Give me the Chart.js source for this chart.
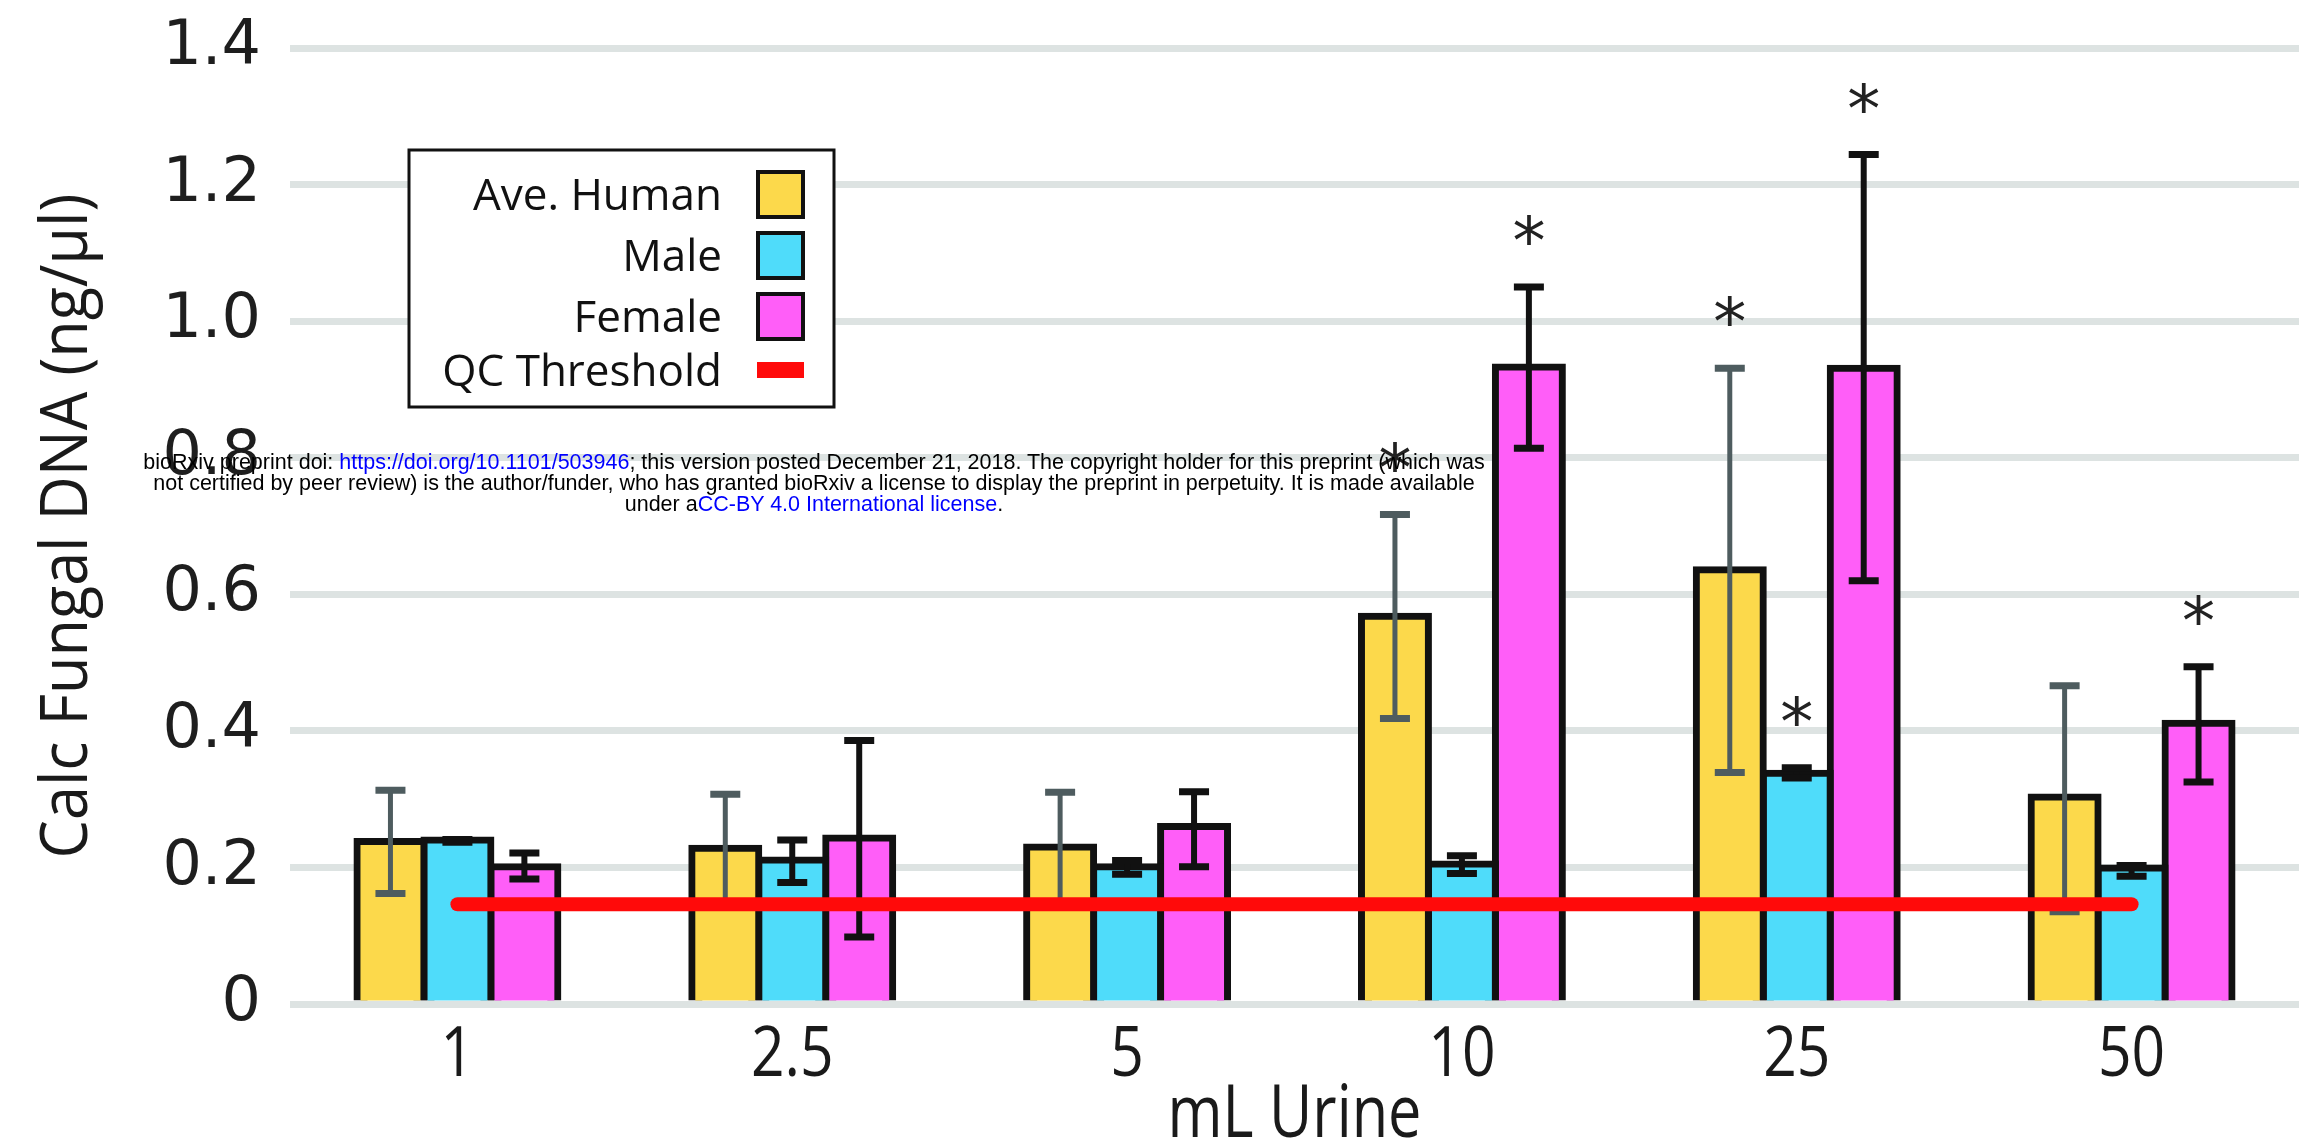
<!DOCTYPE html>
<html>
<head>
<meta charset="utf-8">
<script src="https://cdn.jsdelivr.net/npm/chart.js@4.4.1/dist/chart.umd.min.js"></script>
<style>
    html, body { margin: 0; padding: 0; background: #fff; }
    #wrap { position: relative; width: 2299px; height: 1140px; }
    #note {
        position: absolute; left: 0; top: 452px; width: 1628px;
        text-align: center; white-space: nowrap;
        font: 21.5px "Liberation Sans", Arial, sans-serif; line-height: 21px; color: #000;
    }
    #note a { color: #0000ff; text-decoration: none; }
</style>
</head>
<body>
<div id="wrap">
    <canvas id="chart" width="2299" height="1140"></canvas>
    <div id="note">bioRxiv preprint doi: <a>https://doi.org/10.1101/503946</a>; this version posted December 21, 2018. The copyright holder for this preprint (which was<br>not certified by peer review) is the author/funder, who has granted bioRxiv a license to display the preprint in perpetuity. It is made available<br>under a<a>CC-BY 4.0 International license</a>.</div>
</div>
<script>
const doses = ["1", "2.5", "5", "10", "25", "50"];
const yTicks = [0, 0.2, 0.4, 0.6, 0.8, 1.0, 1.2, 1.4];

const humanMean = [0.238, 0.228, 0.230, 0.568, 0.636, 0.303];
const humanLow  = [0.162, 0.150, 0.150, 0.418, 0.339, 0.135];
const humanHigh = [0.313, 0.307, 0.310, 0.717, 0.931, 0.466];

const maleMean = [0.240, 0.211, 0.201, 0.205, 0.338, 0.199];
const maleLow  = [0.237, 0.178, 0.190, 0.191, 0.331, 0.187];
const maleHigh = [0.241, 0.240, 0.210, 0.217, 0.346, 0.203];

const femaleMean = [0.201, 0.243, 0.260, 0.933, 0.931, 0.411];
const femaleLow  = [0.183, 0.098, 0.201, 0.814, 0.620, 0.325];
const femaleHigh = [0.221, 0.386, 0.311, 1.050, 1.244, 0.494];

const qcThreshold = [0.146, 0.146, 0.146, 0.146, 0.146, 0.146];

// significance stars (drawn above the error bar)
const humanStar  = [false, false, false, true, true, false];
const maleStar   = [false, false, false, false, true, false];
const femaleStar = [false, false, false, true, true, true];

// the original uses a condensed face, so squeeze Open Sans horizontally
function squeezed(ctx, text, x, y, size, sx, rotate) {
    ctx.save();
    ctx.font = size + "px 'Open Sans'";
    ctx.translate(x, y);
    if (rotate) ctx.rotate(-Math.PI / 2);
    ctx.scale(sx, 1);
    ctx.textAlign = "center";
    ctx.textBaseline = "alphabetic";
    ctx.fillText(text, 0, 0);
    ctx.restore();
}

function fitScale(ctx, text, size, width) {
    ctx.font = size + "px 'Open Sans'";
    return width / ctx.measureText(text).width;
}

const condensedText = {
    id: "condensedText",
    afterDraw(chart) {
        const ctx = chart.ctx, x = chart.scales.x, area = chart.chartArea;
        ctx.save();
        ctx.fillStyle = "#1a1a1a";
        chart.data.labels.forEach((lab, i) => {
            squeezed(ctx, lab, x.getPixelForTick(i), 1076, 70, 0.84, false);
        });
        const xt = chart.options.scales.x.title.text;
        squeezed(ctx, xt, (area.left + area.right) / 2, 1137, 73, fitScale(ctx, xt, 73, 254), false);
        const yt = chart.options.scales.y.title.text;
        squeezed(ctx, yt, 87, (area.top + area.bottom) / 2, 66, fitScale(ctx, yt, 66, 665), true);
        ctx.restore();
    }
};

const errorBars = {
    id: "errorBars",
    afterDatasetDraw(chart, args) {
        const ds = chart.data.datasets[args.index];
        if (!ds.errLow) return;
        const ctx = chart.ctx, y = chart.scales.y;
        ctx.save();
        ctx.strokeStyle = ds.errColor;
        ctx.lineCap = "butt";
        args.meta.data.forEach((bar, i) => {
            const top = y.getPixelForValue(ds.errHigh[i]);
            const bot = y.getPixelForValue(ds.errLow[i]);
            ctx.lineWidth = ds.errWidth;
            ctx.beginPath();
            ctx.moveTo(bar.x, top);
            ctx.lineTo(bar.x, bot);
            ctx.stroke();
            ctx.lineWidth = 7;
            ctx.beginPath();
            ctx.moveTo(bar.x - 15, top); ctx.lineTo(bar.x + 15, top);
            ctx.moveTo(bar.x - 15, bot); ctx.lineTo(bar.x + 15, bot);
            ctx.stroke();
        });
        ctx.restore();
    },
    afterDatasetsDraw(chart) {
        const ctx = chart.ctx, y = chart.scales.y;
        ctx.save();
        ctx.fillStyle = "#222";
        ctx.font = "66px 'DejaVu Sans'";
        ctx.textAlign = "center";
        ctx.textBaseline = "alphabetic";
        chart.data.datasets.forEach((ds, d) => {
            if (!ds.stars) return;
            chart.getDatasetMeta(d).data.forEach((bar, i) => {
                if (ds.stars[i]) ctx.fillText("*", bar.x, y.getPixelForValue(ds.errHigh[i]) - 23);
            });
        });
        ctx.restore();
    }
};

const boxLegend = {
    id: "boxLegend",
    afterDraw(chart) {
        const ctx = chart.ctx;
        ctx.save();
        ctx.fillStyle = "#fff";
        ctx.fillRect(409, 150, 425, 257);
        ctx.strokeStyle = "#111";
        ctx.lineWidth = 3;
        ctx.strokeRect(409, 150, 425, 257);
        const rows = [194, 255, 316, 370];
        ctx.font = "44px 'Open Sans'";
        ctx.textAlign = "right";
        ctx.textBaseline = "alphabetic";
        chart.data.datasets.forEach((ds, i) => {
            ctx.fillStyle = "#111";
            ctx.fillText(ds.label, 722, rows[i] + 16);
            if (ds.type === "line") {
                ctx.fillStyle = ds.borderColor;
                ctx.fillRect(757, rows[i] - 8, 47, 16);
            } else {
                ctx.fillStyle = ds.backgroundColor;
                ctx.fillRect(758, rows[i] - 22, 45, 45);
                ctx.strokeStyle = "#111";
                ctx.lineWidth = 4;
                ctx.strokeRect(758, rows[i] - 22, 45, 45);
            }
        });
        ctx.restore();
    }
};

function barSet(label, color, data, low, high, errColor, errWidth, stars) {
    return {
        type: "bar", label: label, data: data,
        backgroundColor: color, borderColor: "#111", borderWidth: 7,
        borderSkipped: "start", inflateAmount: 3.5,
        errLow: low, errHigh: high, errColor: errColor, errWidth: errWidth, stars: stars,
        order: 1
    };
}

new Chart(document.getElementById("chart").getContext("2d"), {
    data: {
        labels: doses,
        datasets: [
            barSet("Ave. Human", "#fcd94b", humanMean, humanLow, humanHigh, "#4e5c5f", 5, humanStar),
            barSet("Male", "#4fdcfa", maleMean, maleLow, maleHigh, "#111", 6, maleStar),
            barSet("Female", "#ff5ef8", femaleMean, femaleLow, femaleHigh, "#111", 6, femaleStar),
            {
                type: "line", label: "QC Threshold", data: qcThreshold,
                borderColor: "#ff0a0a", borderWidth: 14, borderCapStyle: "round",
                pointRadius: 0, fill: false, order: 0
            }
        ]
    },
    options: {
        responsive: false,
        animation: false,
        layout: { padding: { top: 48, right: 0, left: 0, bottom: 0 } },
        datasets: { bar: { categoryPercentage: 0.6, barPercentage: 1 } },
        plugins: { legend: { display: false }, tooltip: { enabled: false } },
        scales: {
            x: {
                offset: true,
                grid: { display: false },
                border: { display: false },
                afterFit: s => { s.height = 136; },
                ticks: { display: false },
                title: { display: false, text: "mL Urine" }
            },
            y: {
                min: 0, max: 1.4,
                afterBuildTicks: s => { s.ticks = yTicks.map(v => ({ value: v })); },
                afterFit: s => { s.width = 290; },
                grid: { color: "#dde3e2", lineWidth: 7, drawTicks: false },
                border: { display: false },
                ticks: {
                    padding: 29, color: "#1e1e1e",
                    font: { family: "'DejaVu Sans'", size: 62, lineHeight: 0.5 },
                    callback: v => v === 0 ? "0" : v.toFixed(1)
                },
                title: { display: false, text: "Calc Fungal DNA (ng/µl)" }
            }
        }
    },
    plugins: [errorBars, boxLegend, condensedText]
});
</script>
</body>
</html>
